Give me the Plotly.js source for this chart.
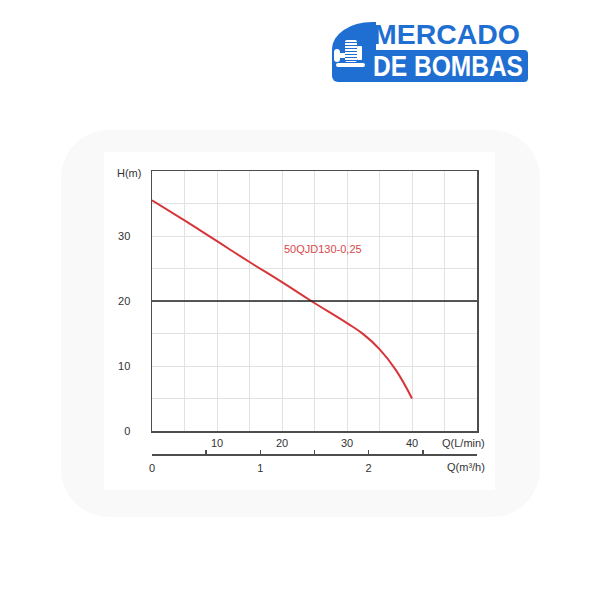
<!DOCTYPE html>
<html>
<head>
<meta charset="utf-8">
<script src="https://cdn.plot.ly/plotly-3.0.1.min.js"></script>
<style>
  html, body { margin:0; padding:0; background:#ffffff; width:600px; height:600px; overflow:hidden; }
  .abs { position:absolute; }
  #soft { left:61px; top:130px; width:479px; height:387px; background:#f9f9f9; border-radius:48px; }
  #white { left:104px; top:152px; width:391px; height:338px; background:#ffffff; }
  #chart { left:0; top:0; width:600px; height:600px; }
  .blue { background:#1f6fd3; }
  .wh { background:#ffffff; }
  .logo-text { font-family:"Liberation Sans", Arial, sans-serif; font-weight:bold; white-space:nowrap; transform-origin:0 0; }
</style>
</head>
<body>
<div id="soft" class="abs"></div>
<div id="white" class="abs"></div>

<!-- logo -->
<div class="abs blue" style="left:332px; top:22px; width:44px; height:60px; border-radius:40px 0 0 6px / 27px 0 0 6px;"></div>
<div class="abs blue" style="left:370px; top:50px; width:158px; height:32px; border-radius:0 4px 4px 0;"></div>
<div class="abs wh" style="left:334px; top:49px; width:6px; height:13px; border-radius:3px;"></div>
<div class="abs wh" style="left:340px; top:53px; width:5px; height:5px;"></div>
<div class="abs" style="left:345px; top:40px; width:12px; height:22px; border-radius:2px; background:repeating-linear-gradient(to bottom,#ffffff 0,#ffffff 2px,#1f6fd3 2px,#1f6fd3 3px);"></div>
<div class="abs wh" style="left:357px; top:46px; width:5px; height:14px; border-radius:1px;"></div>
<div class="abs wh" style="left:336px; top:63px; width:29px; height:4px; border-radius:2px;"></div>
<div id="logo1" class="abs logo-text" style="left:373px; top:21px; font-size:28px; line-height:28px; color:#1f6fd3;">MERCADO</div>
<div id="logo2" class="abs logo-text" style="left:373px; top:52px; font-size:29px; line-height:29px; color:#ffffff;">DE BOMBAS</div>

<div id="chart" class="abs"></div>

<script>
// ---- data ----
var flowLpm = [0, 5, 10, 15, 20, 24.5, 30, 32.5, 35, 37.5, 40];
var headM   = [35.5, 32.4, 29.2, 26.0, 22.9, 20.0, 16.6, 14.9, 12.6, 9.4, 5.0];
var curveName = "50QJD130-0,25";
var referenceHead = 20;

var lpmTickVals = [10, 20, 30, 40];
var lpmTickText = ["10", "20", "30", "40"];
var headTickVals = [0, 10, 20, 30];
var headTickText = ["0", "10", "20", "30"];
var m3hTickVals = [0, 0.5, 1, 1.5, 2, 2.5, 3];
var m3hTickText = ["0", "", "1", "", "2", "", ""];
var lpmRange = [0, 50];
var m3hRange = [0, 3];
var headRange = [0, 40];
var axisTitles = { head: "H(m)", lpm: "Q(L/min)", m3h: "Q(m³/h)" };

var FAM = "Liberation Sans, Arial, sans-serif";
var TXT = "#333333";
function mkFont(size, color) { return { family: FAM, size: size, color: color || TXT }; }
var gridColor = "#e2e2e2";
var lineColor = "#4d4d4d";

// pixel -> paper helpers (plot frame: x 152..477, y 171..454)
function px(x) { return (x - 152) / 325; }
function py(y) { return (454 - y) / 283; }

var traces = [
  {
    x: flowLpm, y: headM, type: "scatter", mode: "lines",
    line: { color: "#d6363a", width: 2, shape: "spline", smoothing: 1.3 },
    hoverinfo: "skip", showlegend: false
  },
  {
    x: m3hTickVals, y: m3hTickVals.map(function(){ return null; }),
    xaxis: "x2", yaxis: "y", type: "scatter", mode: "lines",
    line: { color: "rgba(0,0,0,0)" },
    hoverinfo: "skip", showlegend: false
  }
];

function title(text, x, y) {
  return { text: text, x: px(x), y: py(y), xref: "paper", yref: "paper",
           xanchor: "center", yanchor: "middle", showarrow: false, font: mkFont(11) };
}

var layout = {
  width: 600, height: 600,
  margin: { l: 152, r: 123, t: 171, b: 146, pad: 0 },
  paper_bgcolor: "rgba(0,0,0,0)",
  plot_bgcolor: "rgba(0,0,0,0)",
  showlegend: false,
  font: mkFont(11),
  xaxis: {
    range: lpmRange, domain: [0, 1], anchor: "y", color: TXT,
    tickmode: "array", tickvals: lpmTickVals, ticktext: lpmTickText,
    ticks: "", ticklabelstandoff: 1,
    showline: true, mirror: true, linecolor: lineColor, linewidth: 1.5,
    showgrid: true, gridcolor: gridColor, gridwidth: 1,
    minor: { tick0: 0, dtick: 5, showgrid: true, gridcolor: gridColor, gridwidth: 1, ticks: "" },
    zeroline: false, fixedrange: true, tickfont: mkFont(11)
  },
  xaxis2: {
    range: m3hRange, overlaying: "x", anchor: "free", position: 0, side: "bottom", color: TXT,
    tickmode: "array", tickvals: m3hTickVals, ticktext: m3hTickText,
    ticks: "inside", ticklen: 4, tickwidth: 1.5, tickcolor: lineColor,
    ticklabelstandoff: 3,
    showline: true, linecolor: lineColor, linewidth: 1.5,
    showgrid: false, zeroline: false, fixedrange: true, tickfont: mkFont(11)
  },
  yaxis: {
    range: headRange, domain: [23/283, 1], anchor: "x", color: TXT,
    tickmode: "array", tickvals: headTickVals, ticktext: headTickText,
    ticks: "", ticklabelstandoff: 18,
    showline: true, mirror: true, linecolor: lineColor, linewidth: 1.5,
    showgrid: true, gridcolor: gridColor, gridwidth: 1,
    minor: { tick0: 0, dtick: 5, showgrid: true, gridcolor: gridColor, gridwidth: 1, ticks: "" },
    zeroline: false, fixedrange: true, tickfont: mkFont(11)
  },
  shapes: [
    { type: "line", xref: "x domain", yref: "y", x0: 0, x1: 1, y0: referenceHead, y1: referenceHead,
      line: { color: "#222222", width: 1.5 }, layer: "above" }
  ],
  annotations: [
    { text: curveName, x: 26.3, y: 28, xref: "x", yref: "y", showarrow: false,
      xanchor: "center", yanchor: "middle", font: mkFont(11, "#d9484a") },
    title(axisTitles.head, 129, 173),
    title(axisTitles.lpm, 463, 442.5),
    title(axisTitles.m3h, 466, 467.5)
  ]
};

Plotly.newPlot("chart", traces, layout, { staticPlot: true, displayModeBar: false });

// fit logo words to their widths in the reference
function fitWidth(id, target) {
  var el = document.getElementById(id);
  var w = el.getBoundingClientRect().width;
  if (w > 0) el.style.transform = "scaleX(" + (target / w) + ")";
}
fitWidth("logo1", 147);
fitWidth("logo2", 150);
</script>
</body>
</html>
